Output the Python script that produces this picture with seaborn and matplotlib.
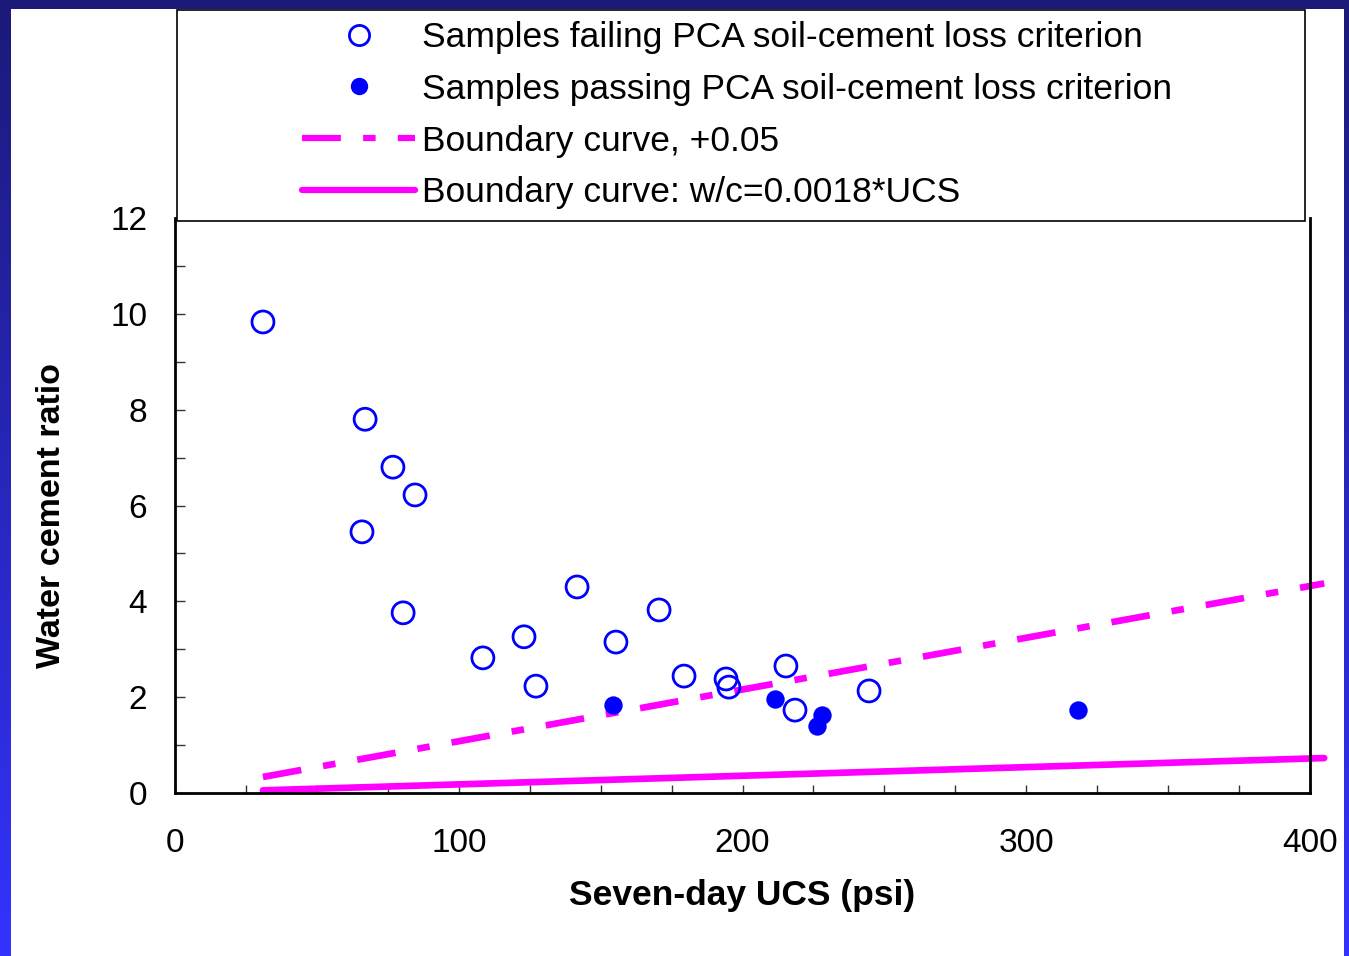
import numpy as np
import matplotlib
matplotlib.use("Agg")
import matplotlib.pyplot as plt
from matplotlib.patches import Rectangle
from matplotlib.lines import Line2D
from matplotlib.ticker import MultipleLocator
import seaborn as sns

# Seven-day UCS (psi) and water/cement ratio of samples failing the PCA criterion
fail_ucs = [31.0, 67.0, 76.8, 84.6, 65.9, 80.4, 141.7, 170.6, 155.4, 123.0,
            108.5, 127.2, 179.4, 194.2, 195.2, 215.3, 218.5, 244.6]
fail_wc = [9.83, 7.80, 6.80, 6.22, 5.45, 3.76, 4.30, 3.82, 3.15, 3.26,
           2.82, 2.23, 2.44, 2.38, 2.21, 2.65, 1.73, 2.13]

# Samples passing the PCA criterion
pass_ucs = [154.4, 211.5, 228.1, 226.1, 318.2]
pass_wc = [1.84, 1.96, 1.62, 1.40, 1.73]

# Boundary curves
curve_ucs = [31.0, 405.0]
base_coef = 0.0018      # w/c = 0.0018*UCS
upper_coef = 0.0108     # shifted boundary

legend_labels = ["Samples failing PCA soil-cement loss criterion",
                 "Samples passing PCA soil-cement loss criterion",
                 "Boundary curve, +0.05",
                 "Boundary curve: w/c=0.0018*UCS"]

BLUE = "#0000ff"
MAGENTA = "#ff00ff"
DASH = (0, (28, 16, 9, 16))

sns.set_style("ticks")
plt.rcParams["font.family"] = ["Liberation Sans", "DejaVu Sans"]
plt.rcParams["lines.scale_dashes"] = False
for key in ("text.color", "axes.labelcolor", "xtick.labelcolor", "ytick.labelcolor"):
    plt.rcParams[key] = "black"

W, H = 1349, 956
fig = plt.figure(figsize=(W / 100, H / 100), dpi=100)

# Frame: vertical navy-to-blue gradient with a white sheet on top
bg = fig.add_axes([0, 0, 1, 1], zorder=-10)
top_c = np.array([0x1b, 0x1a, 0x78]) / 255
bot_c = np.array([0x33, 0x33, 0xff]) / 255
t = np.linspace(0, 1, 256)[:, None]
grad = (top_c[None, :] * (1 - t) + bot_c[None, :] * t)[:, None, :]
bg.imshow(grad, aspect="auto", extent=[0, 1, 0, 1], origin="upper")
bg.add_patch(Rectangle((11 / W, 0), (1344 - 11) / W, (H - 9) / H,
                       facecolor="white", edgecolor="none"))
bg.set_xlim(0, 1)
bg.set_ylim(0, 1)
bg.axis("off")

ax = fig.add_axes([175 / W, 1 - 793 / H, (1310 - 175) / W, (793 - 218) / H])
ax.set_facecolor("white")

ucs = np.array(curve_ucs)
sns.lineplot(x=ucs, y=base_coef * ucs, ax=ax, color=MAGENTA, linewidth=4.8,
             solid_capstyle="round", clip_on=False, zorder=2)
sns.lineplot(x=ucs, y=upper_coef * ucs, ax=ax, color=MAGENTA, linewidth=4.8,
             linestyle=DASH, dash_capstyle="butt", clip_on=False, zorder=2)

sns.scatterplot(x=fail_ucs, y=fail_wc, ax=ax, marker="o", s=250,
                facecolor="none", edgecolor=BLUE, linewidth=2.0, zorder=3)
sns.scatterplot(x=pass_ucs, y=pass_wc, ax=ax, marker="o", s=175,
                color=BLUE, linewidth=0, zorder=3)

ax.set_xlim(0, 400)
ax.set_ylim(0, 12)
ax.xaxis.set_major_locator(MultipleLocator(100))
ax.xaxis.set_minor_locator(MultipleLocator(25))
ax.yaxis.set_major_locator(MultipleLocator(2))
ax.yaxis.set_minor_locator(MultipleLocator(1))
ax.tick_params(axis="x", which="both", direction="in", length=6, width=1,
               color="#333333", labelcolor="black", labelsize=24, pad=25)
ax.tick_params(axis="y", which="both", direction="in", length=7, width=1,
               color="#333333", labelcolor="black", labelsize=24, pad=20)
for side in ("left", "bottom", "right"):
    ax.spines[side].set_linewidth(2)
    ax.spines[side].set_color("black")
ax.spines["top"].set_visible(False)

ax.set_xlabel("Seven-day UCS (psi)", fontsize=25.5, fontweight="bold")
ax.set_ylabel("Water cement ratio", fontsize=24.5, fontweight="bold")
ax.xaxis.set_label_coords(0.5, -(895 - 793) / 575)
ax.xaxis.label.set_va("center")
ax.yaxis.set_label_coords(-(175 - 52) / 1135, (793 - 515) / 575)
ax.yaxis.label.set_va("center")

# Legend box spanning the top of the chart
fig.patches.append(Rectangle((177 / W, 1 - 221 / H), (1305 - 177) / W,
                             (221 - 10) / H, transform=fig.transFigure,
                             facecolor="white", edgecolor="black",
                             linewidth=1.2, zorder=1))

handles = [
    Line2D([], [], linestyle="none", marker="o", markersize=14.5,
           markerfacecolor="none", markeredgecolor=BLUE, markeredgewidth=2.0),
    Line2D([], [], linestyle="none", marker="o", markersize=12.5,
           markerfacecolor=BLUE, markeredgewidth=0),
    Line2D([], [], color=MAGENTA, linewidth=4.5, linestyle=DASH,
           dash_capstyle="butt"),
    Line2D([], [], color=MAGENTA, linewidth=4.5, solid_capstyle="round"),
]
fig.legend(handles, legend_labels, loc="upper left",
           bbox_to_anchor=(302 / W, 1 - 21 / H), frameon=False,
           fontsize=25.5, handlelength=3.2, handletextpad=0.18,
           labelspacing=0.53, borderpad=0, borderaxespad=0)

fig.savefig("out.png", dpi=100)
